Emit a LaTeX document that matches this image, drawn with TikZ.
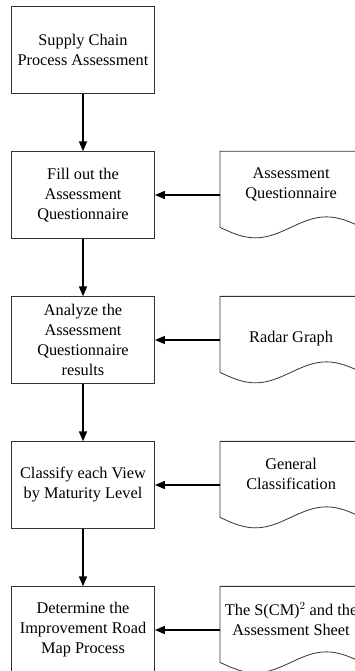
\documentclass[tikz,border=0pt]{standalone}
\usepackage{fontspec}
\setmainfont{Liberation Serif}
\usetikzlibrary{positioning,arrows.meta}

\tikzset{
  stepbox/.style={draw=black!80, line width=0.8pt, minimum width=143pt, minimum height=86.5pt,
    align=center, inner sep=2pt, font=\fontsize{16.3}{20}\selectfont},
  docbox/.style={minimum width=142pt, minimum height=65pt, align=center, inner sep=0pt,
    anchor=north west, font=\fontsize{16.3}{20}\selectfont},
  docline/.style={draw=black!80, line width=0.8pt},
  flow/.style={line width=1.5pt, -{Triangle[length=10pt,width=8pt]}}
}

% document symbol round a docbox node
\newcommand{\docoutline}[1]{%
  \draw[docline] (#1.north east) -- (#1.north west) -- ++(0,-76)
    sin ++(35.5,-10.5) cos ++(35.5,10.5) sin ++(35.5,10.5) cos ++(35.5,-10.5);}

\begin{document}
\begin{tikzpicture}[x=1pt,y=1pt,node distance=57.7pt]
        \useasboundingbox (0,0) rectangle (355,-671);

        % Process steps
        \node[stepbox] (assess) at (83,-50) {Supply Chain\\Process Assessment};
        \node[stepbox, below=of assess] (fill) {Fill out the\\Assessment\\Questionnaire};
        \node[stepbox, below=of fill] (analyze) {Analyze the\\Assessment\\Questionnaire\\results};
        \node[stepbox, below=of analyze] (classify) {Classify each View\\by Maturity Level};
        \node[stepbox, below=of classify] (roadmap) {Determine the\\Improvement Road\\Map Process};

        % Documents
        \node[docbox] (quest) at ([xshift=65pt]fill.north east) {Assessment\\Questionnaire};
        \node[docbox, minimum height=84pt] (radar) at ([xshift=65pt]analyze.north east) {Radar Graph};
        \node[docbox] (general) at ([xshift=65pt]classify.north east) {General\\Classification};
        \node[docbox] (sheet) at ([xshift=65pt]roadmap.north east) {The S(CM)$^2$ and the\\Assessment Sheet};
        \docoutline{quest}
        \docoutline{radar}
        \docoutline{general}
        \docoutline{sheet}

        % Flow
        \draw[flow] (assess) -- (fill);
        \draw[flow] (fill) -- (analyze);
        \draw[flow] (analyze) -- (classify);
        \draw[flow] (classify) -- (roadmap);

        % Inputs
        \draw[flow] (quest.west |- fill.east) -- (fill.east);
        \draw[flow] (radar.west |- analyze.east) -- (analyze.east);
        \draw[flow] (general.west |- classify.east) -- (classify.east);
        \draw[flow] (sheet.west |- roadmap.east) -- (roadmap.east);
\end{tikzpicture}
\end{document}
